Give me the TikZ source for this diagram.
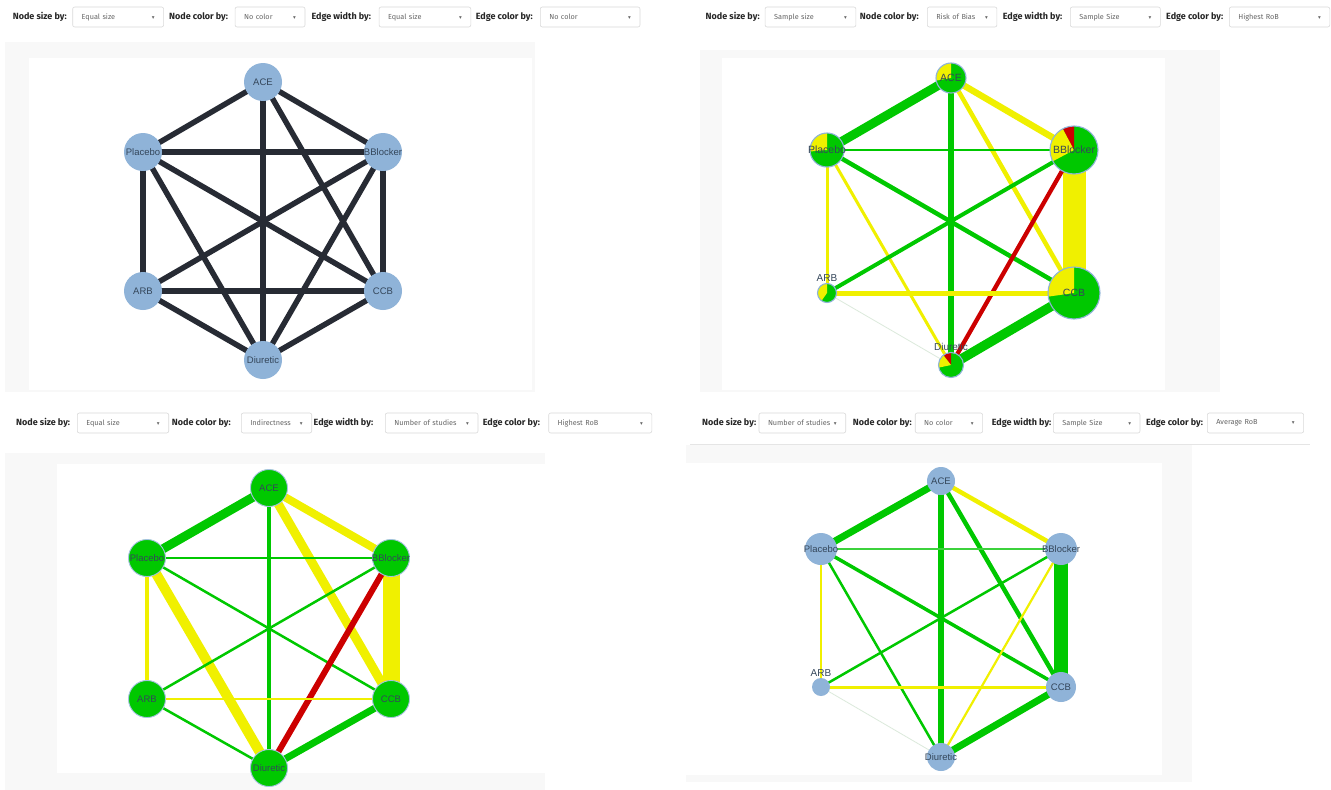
\documentclass[tikz,border=0pt]{standalone}
\usepackage{fontspec}
\setmainfont{Fira Sans}
\newfontfamily\arialf{Liberation Sans}
\newfontfamily\djv{DejaVu Sans}
\definecolor{nb}{HTML}{8FB3D8}
\definecolor{ed}{HTML}{272B34}
\definecolor{gr}{HTML}{00C800}
\definecolor{lgr}{HTML}{3CD23C}
\definecolor{ye}{HTML}{F0F000}
\definecolor{rd}{HTML}{CC0000}
\definecolor{faint}{HTML}{DCEADC}
\definecolor{labc}{HTML}{34465A}
\definecolor{pg}{HTML}{F8F8F8}
\definecolor{selb}{HTML}{DADADA}
\pgfdeclarelayer{back}
\pgfdeclarelayer{edges}
\pgfsetlayers{back,edges,main}
\newcommand\nl[1]{\makebox[0pt]{#1}}
\newcommand\Wdg[3]{\fill[#1] (path picture bounding box.center) -- ++(#2:40pt) arc[start angle=#2,end angle=#3,radius=40pt] -- cycle;}
\newcommand\caret{{\djv\fontsize{5.5}{6}\selectfont ▾}}
\newcommand\Sel[5]{\node[selbox, text width=#4pt] (#1) at (#2,#3) {#5\hfill\caret};}
\newcommand\E[4]{\draw[#1, line width=#2pt] (#3.center) -- (#4.center);}
\tikzset{
  lbl/.style={font=\fontsize{9}{10}\selectfont\bfseries, text=black!85, anchor=west, inner sep=0pt},
  selbox/.style={draw=selb, fill=white, rounded corners=2pt, line width=0.6pt, anchor=west,
     minimum height=20pt, inner xsep=9pt, inner ysep=0pt, text=black!60,
     font=\fontsize{7.3}{8}\selectfont, align=left},
  gn/.style={circle, inner sep=0pt, text=labc, font=\arialf\fontsize{9.5}{10}\selectfont},
  tln/.style={gn, fill=nb, minimum size=38pt},
  trn/.style={gn, fill=gr, draw=nb, line width=1.1pt, font=\arialf\fontsize{10.5}{11}\selectfont},
  bln/.style={gn, fill=gr, draw=nb!80, line width=0.9pt, minimum size=37pt},
  brn/.style={gn, fill=nb},
  pie/.style={path picture={#1}},
  toplab/.style={label={[text=labc, font=\arialf\fontsize{10}{11}\selectfont, inner sep=0pt, label distance=1pt]90:#1}}
}
\begin{document}
\begin{tikzpicture}[x=1pt, y=-1pt]
\useasboundingbox (0,0) rectangle (1331,790);
% panels
\begin{pgfonlayer}{back}
\fill[white] (0,0) rectangle (1331,790);
\fill[pg] (5,42) rectangle (535,392);
\fill[white] (29,58) rectangle (532,390);
\fill[pg] (700,50) rectangle (1220,392);
\fill[white] (722,58) rectangle (1165,390);
\fill[pg] (5,453) rectangle (545,790);
\fill[white] (57,464) rectangle (545,773);
\fill[pg] (686,445) rectangle (1192,782);
\fill[white] (686,463) rectangle (1162,775);
\draw[black!10, line width=0.8pt] (690,444) -- (1310,444);
\end{pgfonlayer}

% controls row 1
\node[lbl] (l11) at (12.6,17) {Node size by:};
\node[lbl] (l12) at (169,17) {Node color by:};
\node[lbl] (l13) at (311.4,17) {Edge width by:};
\node[lbl] (l14) at (475.6,17) {Edge color by:};
\Sel{s11}{72.4}{17}{72.9}{Equal size}
\Sel{s12}{234.8}{17}{51.9}{No color}
\Sel{s13}{378.8}{17}{73.7}{Equal size}
\Sel{s14}{540}{17}{81.7}{No color}
% controls row 2
\node[lbl] (l21) at (705.5,17) {Node size by:};
\node[lbl] (l22) at (859.7,17) {Node color by:};
\node[lbl] (l23) at (1002.7,17) {Edge width by:};
\node[lbl] (l24) at (1166,17) {Edge color by:};
\Sel{s21}{764.8}{17}{72.8}{Sample size}
\Sel{s22}{927}{17}{51.6}{Risk of Bias}
\Sel{s23}{1070}{17}{72}{Sample Size}
\Sel{s24}{1229}{17}{82.5}{Highest RoB}
% controls row 3
\node[lbl] (l31) at (16,423) {Node size by:};
\node[lbl] (l32) at (171.7,423) {Node color by:};
\node[lbl] (l33) at (313.5,423) {Edge width by:};
\node[lbl] (l34) at (482.7,423) {Edge color by:};
\Sel{s31}{77}{423}{73.4}{Equal size}
\Sel{s32}{241}{423}{52.4}{Indirectness}
\Sel{s33}{385}{423}{74.7}{Number of studies}
\Sel{s34}{548.4}{423}{85.1}{Highest RoB}
% controls row 4
\node[lbl] (l41) at (702,423) {Node size by:};
\node[lbl] (l42) at (852.7,423) {Node color by:};
\node[lbl] (l43) at (991.7,423) {Edge width by:};
\node[lbl] (l44) at (1145.8,423) {Edge color by:};
\Sel{s41}{758.7}{423}{68.7}{Number of studies}
\Sel{s42}{914.9}{423}{49.4}{No color}
\Sel{s43}{1053}{423}{68.7}{Sample Size}
\Sel{s44}{1207}{423}{78.3}{Average RoB}

% ---------- panel 1 (top-left)
\node[tln] (aACE) at (263,82) {\nl{ACE}};
\node[tln] (aPla) at (143,152) {\nl{Placebo}};
\node[tln] (aBB) at (383,152) {\nl{BBlocker}};
\node[tln] (aARB) at (143,291) {\nl{ARB}};
\node[tln] (aCCB) at (383,291) {\nl{CCB}};
\node[tln] (aDiu) at (263,360) {\nl{Diuretic}};

% ---------- panel 2 (top-right)
\node[trn, minimum size=30pt, pie={\Wdg{ye}{90}{190}}] (bACE) at (951,78) {\nl{ACE}};
\node[trn, minimum size=34pt, pie={\Wdg{ye}{90}{185}}] (bPla) at (827,150) {\nl{Placebo}};
\node[trn, minimum size=48pt, pie={\Wdg{rd}{90}{118}\Wdg{ye}{118}{208}}] (bBB) at (1074,150) {\nl{BBlocker}};
\node[trn, minimum size=19pt, pie={\Wdg{ye}{90}{235}}, toplab=ARB] (bARB) at (827,293) {};
\node[trn, minimum size=52pt, pie={\Wdg{ye}{90}{188}}] (bCCB) at (1074,293) {\nl{CCB}};
\node[trn, minimum size=25pt, pie={\Wdg{rd}{90}{128}\Wdg{ye}{128}{192}}, toplab=Diuretic] (bDiu) at (951,365) {};

% ---------- panel 3 (bottom-left)
\node[bln] (cACE) at (269,488) {\nl{ACE}};
\node[bln] (cPla) at (147,558) {\nl{Placebo}};
\node[bln] (cBB) at (391,558) {\nl{BBlocker}};
\node[bln] (cARB) at (147,699) {\nl{ARB}};
\node[bln] (cCCB) at (391,699) {\nl{CCB}};
\node[bln] (cDiu) at (269,768) {\nl{Diuretic}};

% ---------- panel 4 (bottom-right)
\node[brn, minimum size=28pt] (dACE) at (941,481) {\nl{ACE}};
\node[brn, minimum size=32pt] (dPla) at (821,549) {\nl{Placebo}};
\node[brn, minimum size=32pt] (dBB) at (1061,549) {\nl{BBlocker}};
\node[brn, minimum size=18pt, toplab=ARB] (dARB) at (821,687) {};
\node[brn, minimum size=30pt] (dCCB) at (1061,687) {\nl{CCB}};
\node[brn, minimum size=28pt] (dDiu) at (941,757) {\nl{Diuretic}};

\begin{pgfonlayer}{edges}
% panel 1
\E{ed}{5.5}{aACE}{aPla}
\E{ed}{5.5}{aACE}{aBB}
\E{ed}{5.5}{aACE}{aDiu}
\E{ed}{5.5}{aACE}{aCCB}
\E{ed}{5.5}{aPla}{aBB}
\E{ed}{5.5}{aPla}{aARB}
\E{ed}{5.5}{aPla}{aCCB}
\E{ed}{5.5}{aPla}{aDiu}
\E{ed}{5.5}{aBB}{aARB}
\E{ed}{5.5}{aBB}{aCCB}
\E{ed}{5.5}{aBB}{aDiu}
\E{ed}{5.5}{aARB}{aCCB}
\E{ed}{5.5}{aARB}{aDiu}
\E{ed}{5.5}{aCCB}{aDiu}
% panel 2
\E{gr}{9}{bACE}{bPla}
\E{ye}{6.5}{bACE}{bBB}
\E{gr}{6.5}{bACE}{bDiu}
\E{ye}{4.5}{bACE}{bCCB}
\E{gr}{2}{bPla}{bBB}
\E{gr}{4.5}{bPla}{bCCB}
\E{ye}{3}{bPla}{bARB}
\E{ye}{3}{bPla}{bDiu}
\E{ye}{23}{bBB}{bCCB}
\E{gr}{4}{bBB}{bARB}
\E{rd}{4.3}{bBB}{bDiu}
\E{ye}{5}{bARB}{bCCB}
\E{faint}{0.8}{bARB}{bDiu}
\E{gr}{9.5}{bCCB}{bDiu}
% panel 3
\E{gr}{9}{cACE}{cPla}
\E{ye}{8}{cACE}{cBB}
\E{ye}{9}{cACE}{cCCB}
\E{gr}{4}{cACE}{cDiu}
\E{gr}{2.5}{cPla}{cBB}
\E{gr}{2.5}{cPla}{cCCB}
\E{ye}{4}{cPla}{cARB}
\E{ye}{10}{cPla}{cDiu}
\E{gr}{2.5}{cBB}{cARB}
\E{ye}{17}{cBB}{cCCB}
\E{rd}{6}{cBB}{cDiu}
\E{ye}{2.5}{cARB}{cCCB}
\E{gr}{2.5}{cARB}{cDiu}
\E{gr}{7}{cCCB}{cDiu}
% panel 4
\E{gr}{7}{dACE}{dPla}
\E{ye}{4.5}{dACE}{dBB}
\E{gr}{6.3}{dACE}{dDiu}
\E{gr}{4.5}{dACE}{dCCB}
\E{lgr}{1.5}{dPla}{dBB}
\E{gr}{3.5}{dPla}{dCCB}
\E{ye}{2.5}{dPla}{dARB}
\E{gr}{2.5}{dPla}{dDiu}
\E{gr}{2.5}{dBB}{dARB}
\E{gr}{14}{dBB}{dCCB}
\E{ye}{2.2}{dBB}{dDiu}
\E{ye}{3}{dARB}{dCCB}
\E{faint}{0.8}{dARB}{dDiu}
\E{gr}{7}{dCCB}{dDiu}
\end{pgfonlayer}
\end{tikzpicture}
\end{document}
